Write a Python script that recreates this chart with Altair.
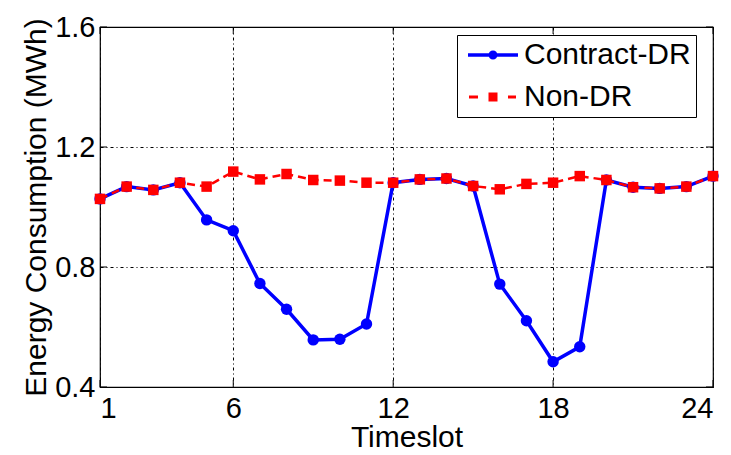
import altair as alt
import pandas as pd

slots = list(range(1, 25))
contract_dr = [1.027, 1.068, 1.057, 1.081, 0.957, 0.921, 0.745, 0.659, 0.557, 0.559, 0.610, 1.081,
               1.092, 1.095, 1.070, 0.743, 0.621, 0.484, 0.534, 1.090, 1.066, 1.062, 1.068, 1.103]
non_dr = [1.027, 1.068, 1.057, 1.081, 1.068, 1.118, 1.092, 1.110, 1.090, 1.088, 1.081, 1.081,
          1.092, 1.095, 1.070, 1.059, 1.077, 1.081, 1.103, 1.090, 1.066, 1.062, 1.068, 1.103]
series_names = ["Contract-DR", "Non-DR"]
series_colors = ["#0000FF", "#FF0000"]
x_ticks = [1, 6, 12, 18, 24]
y_ticks = [0.4, 0.8, 1.2, 1.6]

W, H = 613, 360
FONT = "Liberation Sans"

df_c = pd.DataFrame({"slot": slots, "value": contract_dr, "series": series_names[0]})
df_n = pd.DataFrame({"slot": slots, "value": non_dr, "series": series_names[1]})
df_all = pd.concat([df_c, df_n], ignore_index=True)
df_xt = pd.DataFrame({"t": x_ticks})
df_yt = pd.DataFrame({"t": y_ticks})

# legend symbol paths (px converted to unit coords, scale 12px, shifted right 16px)
S, SH = 12.0, 16.0


def _p(v):
    return round((v + SH) / S, 4)


def _rect(x0, x1, y0, y1):
    return (f"M{_p(x0)},{round(y0 / S, 4)}L{_p(x1)},{round(y0 / S, 4)}"
            f"L{_p(x1)},{round(y1 / S, 4)}L{_p(x0)},{round(y1 / S, 4)}Z")


def _circle(r):
    rr = round(r / S, 4)
    return (f"M{_p(-r)},0A{rr},{rr} 0 1,1 {_p(r)},0A{rr},{rr} 0 1,1 {_p(-r)},0Z")


blue_sym = _rect(-25, -3, -1.8, 1.8) + _circle(4.5) + _rect(3, 25, -1.8, 1.8)
red_sym = _rect(-24, -15, -1.5, 1.5) + _rect(-4.5, 4.5, -4.5, 4.5) + _rect(15, 23, -1.5, 1.5)

xs = alt.Scale(domain=[1, 24], nice=False, zero=False)
ys = alt.Scale(domain=[0.4, 1.6], nice=False, zero=False)
cs = alt.Scale(domain=series_names, range=series_colors)

x_enc = alt.X("slot:Q", scale=xs,
              axis=alt.Axis(values=x_ticks, title="Timeslot", grid=True, ticks=False,
                            labelPadding=7, titleY=59, titleBaseline="alphabetic", format="d"))
y_enc = alt.Y("value:Q", scale=ys,
              axis=alt.Axis(values=y_ticks, title="Energy Consumption (MWh)", grid=True, ticks=False,
                            labelPadding=5, titlePadding=3, format=".1f"))

blue_line = alt.Chart(df_c).mark_line(color="#0000FF", strokeWidth=3.5).encode(x=x_enc, y=y_enc)
blue_pts = alt.Chart(df_c).mark_point(filled=True, shape="circle", size=130, color="#0000FF",
                                      opacity=1).encode(x="slot:Q", y="value:Q")
red_line = alt.Chart(df_n).mark_line(color="#FF0000", strokeWidth=2.5, strokeDash=[8, 5]).encode(
    x="slot:Q", y="value:Q")
red_pts = alt.Chart(df_n).mark_point(filled=True, shape="square", size=110, color="#FF0000",
                                     opacity=1).encode(x="slot:Q", y="value:Q")

legend_layer = alt.Chart(df_all).mark_point(filled=True, opacity=0).encode(
    x="slot:Q", y="value:Q",
    color=alt.Color("series:N", scale=cs, legend=alt.Legend(title=None)),
    shape=alt.Shape("series:N", scale=alt.Scale(domain=series_names, range=[blue_sym, red_sym]),
                    legend=alt.Legend(title=None)),
)

tick_bottom = alt.Chart(df_xt).mark_rule(color="black", strokeWidth=1).encode(
    x=alt.X("t:Q", scale=xs), y=alt.value(H), y2=alt.value(H - 7))
tick_top = alt.Chart(df_xt).mark_rule(color="black", strokeWidth=1).encode(
    x=alt.X("t:Q", scale=xs), y=alt.value(0), y2=alt.value(7))
tick_left = alt.Chart(df_yt).mark_rule(color="black", strokeWidth=1).encode(
    y=alt.Y("t:Q", scale=ys), x=alt.value(0), x2=alt.value(7))
tick_right = alt.Chart(df_yt).mark_rule(color="black", strokeWidth=1).encode(
    y=alt.Y("t:Q", scale=ys), x=alt.value(W), x2=alt.value(W - 7))

chart = alt.layer(
    blue_line, blue_pts, red_line, red_pts, legend_layer,
    tick_bottom, tick_top, tick_left, tick_right,
).properties(
    width=W, height=H,
    autosize=alt.AutoSizeParams(type="none"),
    padding={"left": 92, "top": 19, "right": 10, "bottom": 60},
).configure_view(
    stroke="black", strokeWidth=1.2
).configure_axis(
    labelFont=FONT, titleFont=FONT, labelFontSize=29, titleFontSize=30,
    labelColor="black", titleColor="black", titleFontWeight="normal",
    domain=False, gridColor="black", gridOpacity=1, gridWidth=1, gridDash=[3, 3, 1, 3],
    labelOverlap=False,
).configure_legend(
    orient="none", legendX=357, legendY=8, padding=5,
    strokeColor="black", fillColor="white", cornerRadius=0,
    labelFont=FONT, labelFontSize=30, labelColor="black", labelOffset=32, labelLimit=400,
    symbolSize=576, rowPadding=12, symbolStrokeWidth=0, symbolOpacity=1,
)

chart.save("out.html", embed_options={"renderer": "svg", "actions": False})
